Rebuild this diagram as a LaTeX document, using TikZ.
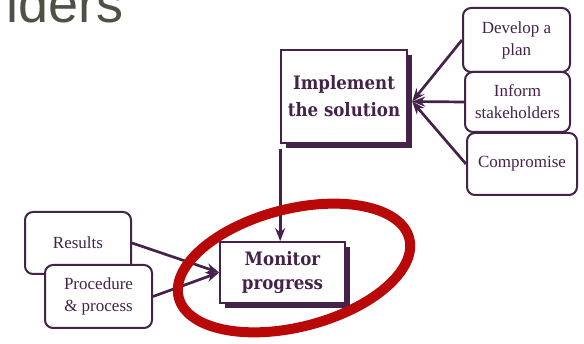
\documentclass[tikz,border=0pt]{standalone}
\usepackage{fontspec}
\setmainfont{Liberation Serif}
\newfontfamily\titlefont{Liberation Sans}
\newfontfamily\boxfont{DejaVu Serif Condensed}
\usetikzlibrary{arrows.meta}
\definecolor{ink}{RGB}{68,34,74}
\definecolor{headgray}{RGB}{80,80,70}
\definecolor{ringred}{RGB}{185,8,8}
\tikzset{
  mainbox/.style={draw=ink, line width=1.7pt, fill=white, inner sep=0pt,
    align=center, text=ink, font=\boxfont\bfseries\fontsize{18.5}{27}\selectfont},
  boxshadow/.style={fill=ink, draw=none, inner sep=0pt},
  sidebox/.style={draw=ink, line width=2pt, fill=white, rounded corners=8pt,
    inner sep=0pt, align=center, text=ink, font=\fontsize{17}{22}\selectfont},
  link/.style={draw=ink, line width=2.7pt, -{Stealth[length=13pt,width=10pt]}}
}
\begin{document}
\begin{tikzpicture}[x=1pt, y=-1pt]
\useasboundingbox (0,0) rectangle (584,344);
\clip (0,0) rectangle (584,344);

% heading fragment
\node[anchor=base west, inner sep=0pt, text=headgray,
  font=\titlefont\fontsize{54}{54}\selectfont] (title) at (6.4,23) {lders};

% central boxes with their offset shadows
\node[boxshadow, minimum width=126pt, minimum height=93pt] (implsh) at (349,101.5) {};
\node[mainbox, minimum width=126pt, minimum height=93pt] (impl) at (344,96.5)
  {Implement\\the solution};
\node[boxshadow, minimum width=125pt, minimum height=61pt] (monsh) at (287.5,277.5) {};
\node[mainbox, minimum width=125pt, minimum height=61pt,
  font=\boxfont\bfseries\fontsize{18.5}{24}\selectfont] (mon) at (282.5,272.5)
  {Monitor\\progress};

% contributing boxes on the right
\node[sidebox, minimum width=107pt, minimum height=64pt] (dev) at (516.5,40) {Develop a\\plan};
\node[sidebox, minimum width=105pt, minimum height=60pt] (inf) at (517.5,102) {Inform\\stakeholders};
\node[sidebox, minimum width=110pt, minimum height=62pt] (comp) at (522,164) {Compromise};

% contributing boxes on the left
\node[sidebox, minimum width=106pt, minimum height=62pt] (res) at (78,243) {Results};
\node[sidebox, minimum width=107pt, minimum height=63pt] (proc) at (98.5,296.5) {Procedure\\\& process};

% connectors
\draw[link] (dev.west) -- (implsh.east);
\draw[link] (inf.west) -- (implsh.east);
\draw[link] (comp.west) -- (implsh.east);
\draw[link] ([yshift=-5pt]impl.south west) -- (impl.south west |- mon.north);
\draw[link] (res.east) -- (mon.west);
\draw[link] (proc.east) -- (mon.west);

% highlight ring
\draw[ringred, line width=10pt, rotate around={14.4:(294,268)}]
  (294,268) ellipse [x radius=119, y radius=59];
\end{tikzpicture}
\end{document}
